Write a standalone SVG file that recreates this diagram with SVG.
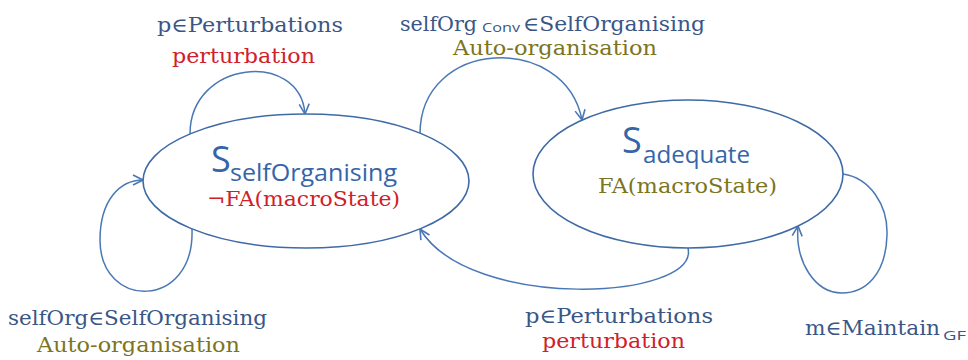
<svg xmlns="http://www.w3.org/2000/svg" width="968" height="360" viewBox="0 0 968 360">
  <defs>
    <marker id="arrow" viewBox="0 0 12 12" refX="11" refY="6" markerWidth="12" markerHeight="12" markerUnits="userSpaceOnUse" orient="auto">
      <path d="M1,1 L11,6 L1,11" fill="none" stroke="#4a78b4" stroke-width="1.6"/>
    </marker>
  </defs>
  <style>
    .state { fill: #ffffff; stroke: #3f6aa6; stroke-width: 1.6; }
    .edge { fill: none; stroke: #4a78b4; stroke-width: 1.5; marker-end: url(#arrow); }
    .serif { font-family: "DejaVu Serif", "Liberation Serif", serif; font-size: 20px; }
    .sans { font-family: "Open Sans", "Liberation Sans", sans-serif; }
    .blue { fill: #3a5686; }
    .red { fill: #d0202a; }
    .olive { fill: #7c7420; }
    .big { fill: #3565a8; }
  </style>
  <rect width="968" height="360" fill="#ffffff"/>

  <g id="connectors">
    <path class="edge" d="M190,134 C190,60 300,50 305,114"/>
    <path class="edge" d="M420,134 C420,38 565,32 582,120"/>
    <path class="edge" d="M192,229 C195,310 100,310 100,240 C100,200 120,180 143,180"/>
    <path class="edge" d="M688,248 C700,300 470,312 420,229"/>
    <path class="edge" d="M843,174 C870,178 888,205 887,235 C886,275 865,293 842,293 C815,293 795,262 798,226"/>
  </g>

  <g id="state-selfOrganising">
    <ellipse class="state" cx="306" cy="181" rx="163" ry="67"/>
    <text class="sans big" x="211" y="172" font-size="36">S</text>
    <text class="sans big" x="230" y="181" font-size="24" textLength="167" lengthAdjust="spacingAndGlyphs">selfOrganising</text>
    <text class="serif red" x="207" y="206" textLength="193" lengthAdjust="spacingAndGlyphs">¬FA(macroState)</text>
  </g>

  <g id="state-adequate">
    <ellipse class="state" cx="688" cy="174" rx="155" ry="74"/>
    <text class="sans big" x="622" y="153" font-size="36">S</text>
    <text class="sans big" x="643" y="163" font-size="24" textLength="107" lengthAdjust="spacingAndGlyphs">adequate</text>
    <text class="serif olive" x="598" y="193" textLength="179" lengthAdjust="spacingAndGlyphs">FA(macroState)</text>
  </g>

  <g id="label-perturbation-loop">
    <text class="serif blue" x="157" y="32" textLength="186" lengthAdjust="spacingAndGlyphs">p∈Perturbations</text>
    <text class="serif red" x="172" y="63" textLength="143" lengthAdjust="spacingAndGlyphs">perturbation</text>
  </g>

  <g id="label-convergence">
    <text class="serif blue" x="400" y="31" textLength="77" lengthAdjust="spacingAndGlyphs">selfOrg</text>
    <text class="sans blue" x="482" y="32" font-size="13" textLength="38" lengthAdjust="spacingAndGlyphs">Conv</text>
    <text class="serif blue" x="523" y="31" textLength="182" lengthAdjust="spacingAndGlyphs">∈SelfOrganising</text>
    <text class="serif olive" x="453" y="55" textLength="204" lengthAdjust="spacingAndGlyphs">Auto-organisation</text>
  </g>

  <g id="label-selforg-loop">
    <text class="serif blue" x="8" y="325" textLength="259" lengthAdjust="spacingAndGlyphs">selfOrg∈SelfOrganising</text>
    <text class="serif olive" x="37" y="352" textLength="203" lengthAdjust="spacingAndGlyphs">Auto-organisation</text>
  </g>

  <g id="label-perturbation-return">
    <text class="serif blue" x="525" y="323" textLength="188" lengthAdjust="spacingAndGlyphs">p∈Perturbations</text>
    <text class="serif red" x="542" y="348" textLength="143" lengthAdjust="spacingAndGlyphs">perturbation</text>
  </g>

  <g id="label-maintain">
    <text class="serif blue" x="805" y="335" textLength="135" lengthAdjust="spacingAndGlyphs">m∈Maintain</text>
    <text class="sans blue" x="943" y="340" font-size="13" textLength="23" lengthAdjust="spacingAndGlyphs">GF</text>
  </g>
</svg>
